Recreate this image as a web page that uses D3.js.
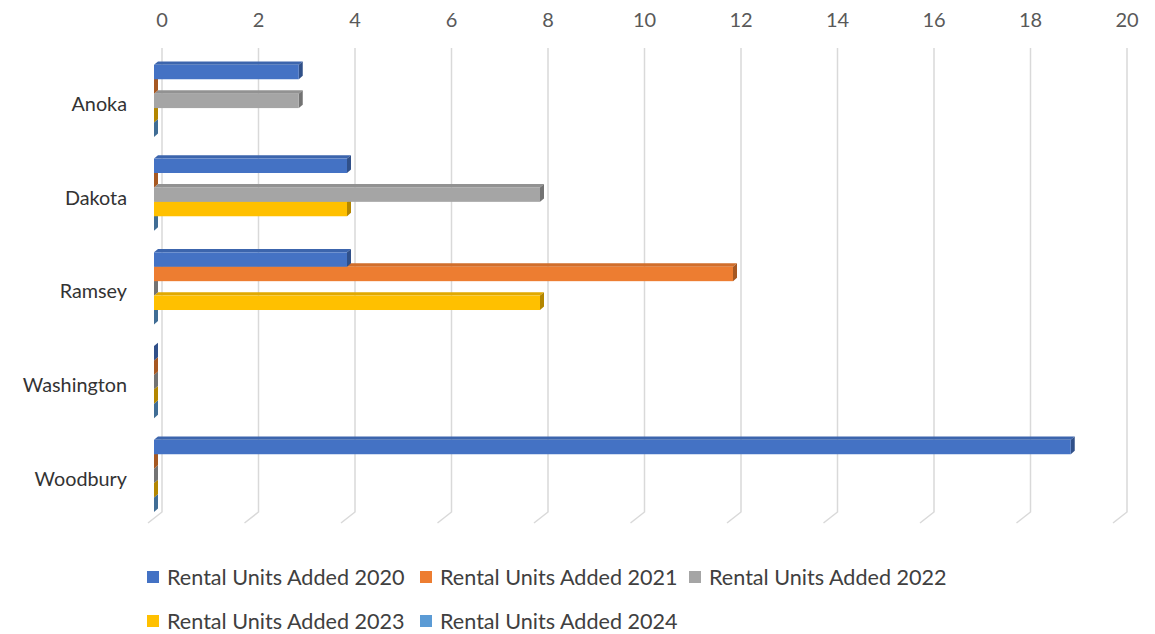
<!DOCTYPE html>
<html>
<head>
<meta charset="utf-8">
<script src="https://cdn.jsdelivr.net/npm/d3@7"></script>
<style>
  body { margin: 0; background: #fff; }
  text { font-family: Lato, "Open Sans", sans-serif; }
</style>
</head>
<body>
<div id="chart"></div>
<script>
// data
const counties = ["Anoka", "Dakota", "Ramsey", "Washington", "Woodbury"];
const seriesNames = ["Rental Units Added 2020", "Rental Units Added 2021", "Rental Units Added 2022",
                     "Rental Units Added 2023", "Rental Units Added 2024"];
const units2020 = [3, 4, 4, 0, 19];
const units2021 = [0, 0, 12, 0, 0];
const units2022 = [3, 8, 0, 0, 0];
const units2023 = [0, 4, 8, 0, 0];
const units2024 = [0, 0, 0, 0, 0];
const ticks = [0, 2, 4, 6, 8, 10, 12, 14, 16, 18, 20];
const colors = ["#4472C4", "#ED7D31", "#A5A5A5", "#FFC000", "#5B9BD5"];

const values = [units2020, units2021, units2022, units2023, units2024];

const width = 1155, height = 634;

const svg = d3.select("#chart")
    .append("svg")
    .attr("width", width)
    .attr("height", height);

// back wall x scale
const x = d3.scaleLinear().domain([0, 20]).range([162, 1127]);
// category bands (front plane)
const y0 = d3.scaleBand().domain(counties).range([54, 522.75]);
const gap = y0.step() * 1.5 / 6.5;
const y1 = d3.scaleBand().domain(d3.range(5)).range([gap / 2, y0.step() - gap / 2]);

// 3d offsets
const floorDx = -14, floorDy = 11;   // back wall -> front of floor
const barShift = -8;                 // bar front face vs back wall
const dX = 4, dY = 3.4;              // bar depth

// gridlines
const grid = svg.append("g");
ticks.forEach(t => {
    grid.append("path")
        .attr("d", `M${x(t)},48 L${x(t)},${512} L${x(t) + floorDx},${512 + floorDy}`)
        .attr("fill", "none")
        .attr("stroke", "#d9d9d9")
        .attr("stroke-width", 1.5);
    grid.append("text")
        .attr("x", x(t))
        .attr("y", 27)
        .attr("text-anchor", "middle")
        .attr("font-size", 20)
        .attr("fill", "#595959")
        .text(t);
});

// bars, drawn bottom series first so upper fronts cover lower top faces
const bars = svg.append("g");
counties.forEach((c, i) => {
    for (let j = 4; j >= 0; j--) {
        const v = values[j][i];
        const xa = x(0) + barShift, xb = x(v) + barShift;
        const yt = y0(c) + y1(j), h = y1.bandwidth();
        const base = d3.color(colors[j]);
        const g = bars.append("g");
        g.append("polygon")
            .attr("points", [[xa, yt], [xb, yt], [xb + dX, yt - dY], [xa + dX, yt - dY]].join(" "))
            .attr("fill", base.darker(0.35));
        g.append("polygon")
            .attr("points", [[xb, yt], [xb + dX, yt - dY], [xb + dX, yt + h - dY], [xb, yt + h]].join(" "))
            .attr("fill", base.darker(1.0));
        if (v > 0) {
            g.append("rect")
                .attr("x", xa)
                .attr("y", yt)
                .attr("width", xb - xa)
                .attr("height", h)
                .attr("fill", base);
        }
    }
});

// category labels
svg.append("g").selectAll("text")
    .data(counties)
    .enter()
    .append("text")
    .attr("x", 127)
    .attr("y", d => y0(d) + y0.step() / 2 + 10)
    .attr("text-anchor", "end")
    .attr("font-size", 19.8)
    .attr("fill", "#333")
    .text(d => d);

// legend
const legendPos = [[147, 577], [420, 577], [689, 577], [147, 621], [420, 621]];
const legend = svg.append("g");
seriesNames.forEach((s, j) => {
    const [lx, ly] = legendPos[j];
    legend.append("rect")
        .attr("x", lx)
        .attr("y", ly - 6)
        .attr("width", 12)
        .attr("height", 12)
        .attr("fill", colors[j]);
    legend.append("text")
        .attr("x", lx + 20)
        .attr("y", ly + 8)
        .attr("font-size", 21.6)
        .attr("fill", "#404040")
        .text(s);
});
</script>
</body>
</html>
